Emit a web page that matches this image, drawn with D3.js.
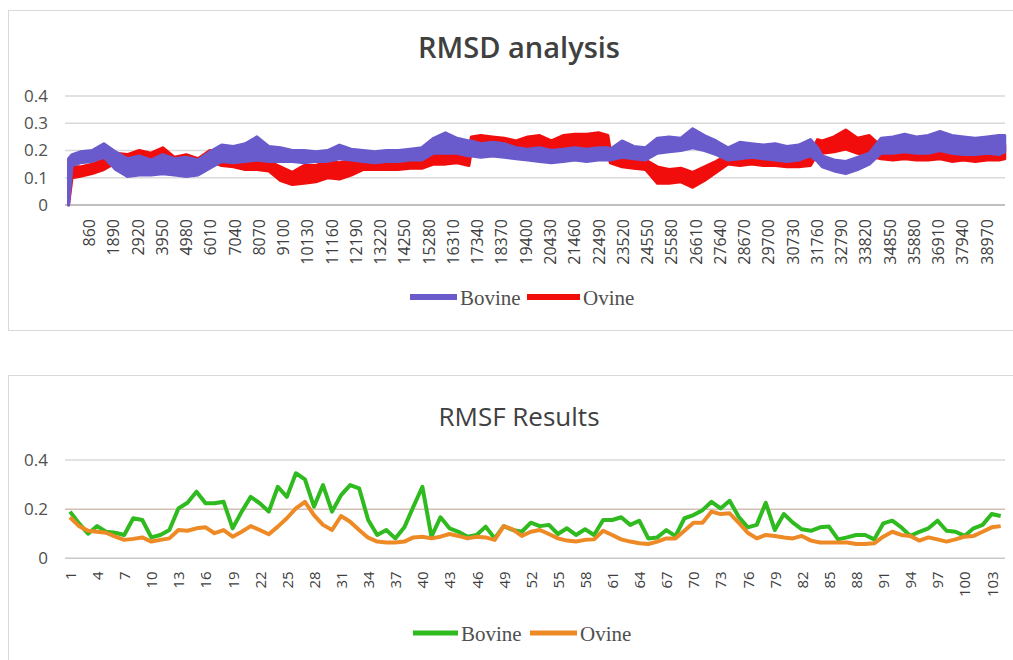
<!DOCTYPE html>
<html>
<head>
<meta charset="utf-8">
<script src="https://cdn.jsdelivr.net/npm/d3@7"></script>
<style>
    body { margin: 0; background: #fff; }
    svg text { font-family: "Open Sans", sans-serif; }
</style>
</head>
<body>
<svg id="chart" width="1013" height="660"></svg>
<script>

// RMSD trace: frame positions and the upper / lower edge of each noisy trace
var rmsdFrames = [0, 150, 500, 1000, 1500, 2000, 2500, 3000, 3500, 4000,
    4500, 5000, 5500, 6000, 6500, 7000, 7500, 8000, 8500, 9000,
    9500, 10000, 10500, 11000, 11500, 12000, 12500, 13000, 13500, 14000,
    14500, 15000, 15500, 16000, 16500, 17000, 17100, 17500, 18000, 18500, 19000,
    19500, 20000, 20500, 21000, 21500, 22000, 22500, 22900, 23000, 23500, 24000,
    24500, 25000, 25500, 26000, 26500, 27000, 27500, 28000, 28500, 29000,
    29500, 30000, 30500, 31000, 31500, 31800, 32000, 32500, 33000, 33500, 34000,
    34500, 35000, 35500, 36000, 36500, 37000, 37500, 38000, 38500, 39000,
    39500, 39750];

var bovineHi = [0.17, 0.185, 0.195, 0.2, 0.225, 0.195, 0.17, 0.18, 0.165, 0.185,
    0.17, 0.175, 0.165, 0.195, 0.22, 0.215, 0.225, 0.25, 0.215, 0.21,
    0.2, 0.2, 0.195, 0.2, 0.22, 0.205, 0.2, 0.195, 0.2, 0.2,
    0.205, 0.21, 0.245, 0.265, 0.245, 0.235, 0.235, 0.225, 0.23, 0.225, 0.21,
    0.205, 0.21, 0.2, 0.205, 0.21, 0.205, 0.21, 0.21, 0.205, 0.235, 0.215,
    0.21, 0.245, 0.25, 0.245, 0.28, 0.255, 0.235, 0.21, 0.23, 0.225,
    0.22, 0.225, 0.215, 0.22, 0.24, 0.21, 0.18, 0.165, 0.16, 0.175, 0.19,
    0.245, 0.25, 0.26, 0.25, 0.255, 0.27, 0.255, 0.25, 0.245, 0.25,
    0.255, 0.255];
var bovineLo = [0, 0.145, 0.155, 0.16, 0.175, 0.13, 0.105, 0.11, 0.11, 0.115,
    0.11, 0.105, 0.11, 0.135, 0.16, 0.155, 0.16, 0.165, 0.16, 0.16,
    0.16, 0.155, 0.16, 0.16, 0.17, 0.165, 0.16, 0.155, 0.16, 0.16,
    0.165, 0.165, 0.19, 0.19, 0.19, 0.18, 0.18, 0.175, 0.18, 0.175, 0.17,
    0.165, 0.16, 0.155, 0.16, 0.165, 0.16, 0.165, 0.165, 0.165, 0.175, 0.17,
    0.165, 0.19, 0.195, 0.2, 0.21, 0.2, 0.185, 0.165, 0.17, 0.175,
    0.17, 0.165, 0.16, 0.165, 0.18, 0.16, 0.14, 0.125, 0.115, 0.13, 0.15,
    0.19, 0.19, 0.195, 0.19, 0.19, 0.2, 0.19, 0.185, 0.185, 0.19,
    0.185, 0.195];
var ovineHi = [0.13, 0.14, 0.14, 0.15, 0.165, 0.19, 0.185, 0.2, 0.19, 0.21,
    0.175, 0.185, 0.17, 0.2, 0.19, 0.18, 0.175, 0.17, 0.16, 0.14,
    0.12, 0.145, 0.145, 0.16, 0.155, 0.165, 0.165, 0.16, 0.165, 0.16,
    0.165, 0.17, 0.195, 0.19, 0.2, 0.185, 0.25, 0.255, 0.25, 0.245, 0.235,
    0.25, 0.255, 0.235, 0.255, 0.26, 0.26, 0.265, 0.255, 0.2, 0.175, 0.17,
    0.165, 0.14, 0.13, 0.135, 0.12, 0.14, 0.16, 0.185, 0.18, 0.185,
    0.18, 0.19, 0.19, 0.185, 0.19, 0.24, 0.235, 0.25, 0.275, 0.245, 0.255,
    0.215, 0.21, 0.22, 0.215, 0.215, 0.22, 0.21, 0.215, 0.21, 0.215,
    0.215, 0.22];
var ovineLo = [0, 0.1, 0.105, 0.115, 0.13, 0.155, 0.15, 0.16, 0.155, 0.165,
    0.14, 0.15, 0.135, 0.16, 0.145, 0.14, 0.13, 0.13, 0.125, 0.09,
    0.075, 0.08, 0.085, 0.1, 0.095, 0.11, 0.13, 0.13, 0.13, 0.13,
    0.135, 0.135, 0.15, 0.15, 0.155, 0.145, 0.195, 0.2, 0.2, 0.19, 0.19,
    0.2, 0.2, 0.19, 0.2, 0.205, 0.2, 0.2, 0.195, 0.155, 0.14, 0.135,
    0.13, 0.08, 0.08, 0.085, 0.065, 0.09, 0.12, 0.15, 0.145, 0.15,
    0.145, 0.145, 0.14, 0.14, 0.145, 0.19, 0.19, 0.195, 0.205, 0.19, 0.18,
    0.17, 0.165, 0.17, 0.165, 0.165, 0.17, 0.16, 0.165, 0.16, 0.165,
    0.165, 0.17];

var rmsdTicks = [860, 1890, 2920, 3950, 4980, 6010, 7040, 8070, 9100, 10130,
    11160, 12190, 13220, 14250, 15280, 16310, 17340, 18370, 19400, 20430,
    21460, 22490, 23520, 24550, 25580, 26610, 27640, 28670, 29700, 30730,
    31760, 32790, 33820, 34850, 35880, 36910, 37940, 38970];
var rmsdYTicks = [0, 0.1, 0.2, 0.3, 0.4];

// RMSF per residue
var residues = d3.range(1, 105);
var bovineRmsf = [0.19, 0.142, 0.10, 0.131, 0.108, 0.104, 0.095, 0.163, 0.156, 0.085,
    0.095, 0.115, 0.203, 0.226, 0.271, 0.224, 0.224, 0.23, 0.122, 0.19,
    0.25, 0.224, 0.19, 0.291, 0.25, 0.346, 0.321, 0.21, 0.298, 0.19,
    0.257, 0.298, 0.285, 0.156, 0.095, 0.115, 0.081, 0.126, 0.21, 0.291,
    0.088, 0.167, 0.122, 0.108, 0.088, 0.095, 0.129, 0.081, 0.131, 0.115,
    0.108, 0.145, 0.131, 0.136, 0.099, 0.122, 0.095, 0.118, 0.095, 0.156,
    0.156, 0.167, 0.136, 0.153, 0.081, 0.085, 0.115, 0.09, 0.163, 0.176,
    0.196, 0.23, 0.203, 0.234, 0.169, 0.126, 0.136, 0.226, 0.115, 0.18,
    0.145, 0.118, 0.112, 0.126, 0.129, 0.077, 0.085, 0.095, 0.095, 0.077,
    0.142, 0.153, 0.126, 0.091, 0.108, 0.122, 0.153, 0.112, 0.108, 0.091,
    0.122, 0.136, 0.18, 0.172];
var ovineRmsf = [0.167, 0.131, 0.112, 0.108, 0.104, 0.088, 0.075, 0.079, 0.085, 0.068,
    0.075, 0.081, 0.115, 0.112, 0.122, 0.126, 0.102, 0.115, 0.088, 0.108,
    0.131, 0.115, 0.098, 0.129, 0.163, 0.203, 0.23, 0.176, 0.136, 0.115,
    0.172, 0.149, 0.115, 0.084, 0.068, 0.064, 0.064, 0.068, 0.085, 0.088,
    0.081, 0.088, 0.099, 0.091, 0.081, 0.088, 0.085, 0.075, 0.131, 0.118,
    0.091, 0.108, 0.115, 0.099, 0.081, 0.072, 0.068, 0.075, 0.077, 0.112,
    0.095, 0.077, 0.068, 0.061, 0.058, 0.068, 0.081, 0.081, 0.112, 0.145,
    0.145, 0.19, 0.18, 0.183, 0.145, 0.104, 0.081, 0.095, 0.091, 0.085,
    0.081, 0.091, 0.072, 0.064, 0.064, 0.064, 0.064, 0.058, 0.058, 0.061,
    0.088, 0.108, 0.095, 0.091, 0.072, 0.085, 0.077, 0.068, 0.077, 0.088,
    0.091, 0.108, 0.126, 0.131];
var rmsfTicks = [1, 4, 7, 10, 13, 16, 19, 22, 25, 28, 31, 34, 37, 40, 43, 46, 49, 52,
    55, 58, 61, 64, 67, 70, 73, 76, 79, 82, 85, 88, 91, 94, 97, 100, 103];
var rmsfYTicks = [0, 0.2, 0.4];

var bovineBlue = "#6a5bcd", ovineRed = "#f20d0d";
var bovineGreen = "#2fba1f", ovineOrange = "#ee8a26";

var svg = d3.select("#chart");

// chart frames
svg.append("rect").attr("x", 8.5).attr("y", 10.5).attr("width", 1020).attr("height", 320)
    .attr("fill", "none").attr("stroke", "#d9d9d9");
svg.append("rect").attr("x", 8.5).attr("y", 375.5).attr("width", 1020).attr("height", 300)
    .attr("fill", "none").attr("stroke", "#d9d9d9");

function yLabels(g, scale, ticks, x) {
    let ax = d3.axisLeft(scale).tickValues(ticks)
        .tickFormat(d => d === 0 ? "0" : d3.format(".1f")(d))
        .tickSize(0).tickPadding(0);
    let a = g.append("g").attr("transform", "translate(" + x + ",0)").call(ax);
    a.select(".domain").remove();
    a.selectAll("text").attr("font-size", 17).attr("fill", "#505050")
        .style("font-family", "'Open Sans', sans-serif");
}

function xLabels(g, scale, ticks, y, size, pad) {
    let ax = d3.axisBottom(scale).tickValues(ticks).tickSize(0).tickFormat(d3.format("d"));
    let a = g.append("g").attr("transform", "translate(0," + y + ")").call(ax);
    a.select(".domain").remove();
    a.selectAll("text")
        .attr("transform", "rotate(-90)")
        .attr("x", -pad).attr("y", 0).attr("dy", "0.36em")
        .attr("text-anchor", "end")
        .attr("font-size", size).attr("fill", "#404040")
        .style("font-family", "'Open Sans', sans-serif");
}

function legend(g, items, x0, y, lw) {
    items.forEach(it => {
        g.append("line").attr("x1", x0 + it.dx).attr("x2", x0 + it.dx + it.len)
            .attr("y1", y).attr("y2", y)
            .attr("stroke", it.color).attr("stroke-width", lw);
        g.append("text").attr("x", x0 + it.dx + it.len + 3).attr("y", y + 8)
            .attr("font-size", 21).attr("fill", "#505050")
            .style("font-family", "'Liberation Serif', serif")
            .text(it.name);
    });
}

// ---------------- RMSD analysis ----------------
var xTop = d3.scaleLinear().domain([-150, 39760]).range([65, 1005]);
var yTop = d3.scaleLinear().domain([0, 0.4]).range([205, 96]);
var gTop = svg.append("g");

gTop.append("text").attr("x", 519).attr("y", 58).attr("text-anchor", "middle")
    .attr("font-size", 29).attr("font-weight", 600).attr("fill", "#404040")
    .text("RMSD analysis");

rmsdYTicks.forEach(t => {
    gTop.append("line").attr("x1", 65).attr("x2", 1005)
        .attr("y1", yTop(t)).attr("y2", yTop(t))
        .attr("stroke", t === 0 ? "#bfbfbf" : "#d9d9d9")
        .attr("stroke-width", t === 0 ? 2 : 1.5);
});

function drawBand(g, hi, lo, color) {
    let area = d3.area()
        .x((d, i) => xTop(rmsdFrames[i]))
        .y0((d, i) => yTop(lo[i]))
        .y1((d, i) => yTop(hi[i]));
    g.append("path").datum(hi).attr("d", area)
        .attr("fill", color).attr("stroke", color)
        .attr("stroke-width", 3).attr("stroke-linejoin", "round");
}
drawBand(gTop, ovineHi, ovineLo, ovineRed);
drawBand(gTop, bovineHi, bovineLo, bovineBlue);

yLabels(gTop, yTop, rmsdYTicks, 48);
xLabels(gTop, xTop, rmsdTicks, 205, 16, 14);

legend(gTop, [
    { name: "Bovine", color: bovineBlue, dx: 0, len: 47 },
    { name: "Ovine", color: ovineRed, dx: 117, len: 53 }
], 410, 297, 6);

// ---------------- RMSF Results ----------------
var xBot = d3.scalePoint().domain(residues).range([70, 1000.7]);
var yBot = d3.scaleLinear().domain([0, 0.4]).range([558.3, 460]);
var gBot = svg.append("g");

gBot.append("text").attr("x", 519).attr("y", 426).attr("text-anchor", "middle")
    .attr("font-size", 26).attr("fill", "#404040")
    .text("RMSF Results");

rmsfYTicks.forEach(t => {
    gBot.append("line").attr("x1", 65).attr("x2", 1005)
        .attr("y1", yBot(t)).attr("y2", yBot(t))
        .attr("stroke", t === 0 ? "#c8c8c8" : (t === 0.2 ? "#d3c0b4" : "#d9d9d9"))
        .attr("stroke-width", 1.5);
});

var rmsfLine = d3.line()
    .x((d, i) => xBot(residues[i]))
    .y(d => yBot(d));

gBot.append("path").datum(bovineRmsf).attr("d", rmsfLine)
    .attr("fill", "none").attr("stroke", bovineGreen)
    .attr("stroke-width", 4).attr("stroke-linejoin", "round");
gBot.append("path").datum(ovineRmsf).attr("d", rmsfLine)
    .attr("fill", "none").attr("stroke", ovineOrange)
    .attr("stroke-width", 4).attr("stroke-linejoin", "round");

yLabels(gBot, yBot, rmsfYTicks, 48);
xLabels(gBot, xBot, rmsfTicks, 558.3, 15, 13);

legend(gBot, [
    { name: "Bovine", color: bovineGreen, dx: 0, len: 45 },
    { name: "Ovine", color: ovineOrange, dx: 117, len: 47 }
], 413, 633, 5);

</script>
</body>
</html>
